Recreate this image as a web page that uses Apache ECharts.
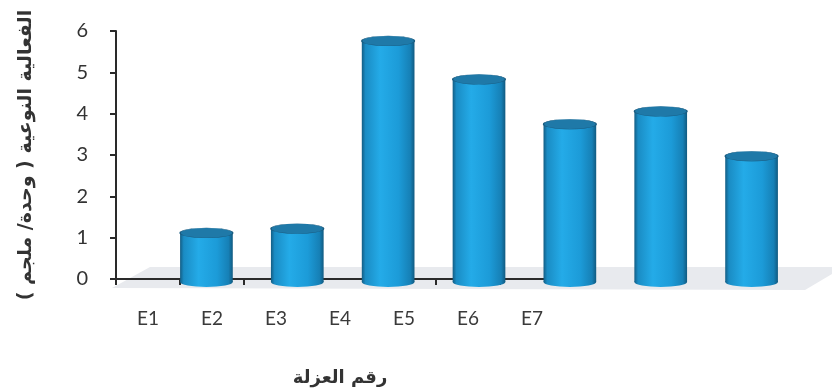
<!DOCTYPE html>
<html>
<head>
<meta charset="utf-8">
<script src="https://cdn.jsdelivr.net/npm/echarts@6/dist/echarts.min.js"></script>
<style>
  html, body { margin: 0; padding: 0; background: #ffffff; }
  #chart { width: 832px; height: 392px; }
</style>
</head>
<body>
<div id="chart"></div>
<script>
// Isolate numbers and their specific activity (unit/mg)
const categories = ['E1', 'E2', 'E3', 'E4', 'E5', 'E6', 'E7'];
const activity = [1.15, 1.25, 5.65, 4.75, 3.7, 4.0, 2.95];
const yTicks = [0, 1, 2, 3, 4, 5, 6];

const yName = 'الفعالية النوعية ( وحدة/ ملجم )';
const xName = 'رقم العزلة';

const chart = echarts.init(document.getElementById('chart'), null, { renderer: 'canvas' });

const bodyGrad = new echarts.graphic.LinearGradient(0, 0, 1, 0, [
  { offset: 0, color: '#135d84' },
  { offset: 0.07, color: '#1a8cc4' },
  { offset: 0.35, color: '#24abe8' },
  { offset: 0.7, color: '#1c9bd8' },
  { offset: 0.92, color: '#1680b6' },
  { offset: 1, color: '#115a80' }
]);

// Cylinder: body rectangle, rounded base and an elliptical lid
function renderCylinder(params, api) {
  const idx = api.value(0);
  const top = api.coord([idx, api.value(1)]);
  const base = api.coord([idx, 0]);
  const w = api.size([1, 0])[0] * 0.58;
  const r = w / 2;
  const ry = 5;
  const sy = ry / r;
  return {
    type: 'group',
    children: [
      {
        type: 'circle',
        shape: { cx: 0, cy: 0, r: r },
        x: top[0], y: base[1], scaleY: sy,
        style: { fill: bodyGrad }
      },
      {
        type: 'rect',
        shape: { x: top[0] - r, y: top[1], width: w, height: base[1] - top[1] },
        style: { fill: bodyGrad }
      },
      {
        type: 'circle',
        shape: { cx: 0, cy: 0, r: r },
        x: top[0], y: top[1], scaleY: sy,
        style: { fill: '#1f79a8', stroke: '#1b5c80', lineWidth: 1.5 }
      }
    ]
  };
}

const option = {
  backgroundColor: '#ffffff',
  animation: false,
  graphic: [
    {
      // floor of the plot area
      type: 'polygon',
      z: 0,
      shape: { points: [[112, 288], [805, 290], [832, 274], [832, 267], [150, 267]] },
      style: { fill: '#e8eaee' }
    }
  ],
  grid: [
    { left: 116, top: 31, width: 448, bottom: 105 },
    { left: 161, top: 26, width: 636, bottom: 110 }
  ],
  xAxis: [
    {
      type: 'category',
      gridIndex: 0,
      data: categories,
      boundaryGap: true,
      name: xName,
      nameLocation: 'middle',
      nameGap: 90,
      nameTextStyle: { fontFamily: 'DejaVu Sans', fontSize: 18, fontWeight: 'bold', color: '#333' },
      axisLine: { lineStyle: { color: '#2a2a2a', width: 2 } },
      axisTick: { show: true, length: 6, lineStyle: { color: '#2a2a2a', width: 2 } },
      axisLabel: { fontFamily: 'Lato', fontSize: 19, color: '#3a3a3a', margin: 30 },
      splitLine: { show: false }
    },
    {
      type: 'category',
      gridIndex: 1,
      data: categories,
      show: false
    }
  ],
  yAxis: [
    {
      type: 'value',
      gridIndex: 0,
      min: 0, max: 6, interval: 1,
      name: yName,
      nameLocation: 'middle',
      nameRotate: 90,
      nameGap: 80,
      nameTextStyle: { fontFamily: 'DejaVu Sans', fontSize: 19, fontWeight: 'bold', color: '#333' },
      axisLine: { show: true, lineStyle: { color: '#2a2a2a', width: 2 } },
      axisTick: { show: true, length: 6, lineStyle: { color: '#2a2a2a', width: 2 } },
      axisLabel: {
        fontFamily: 'Lato', fontSize: 20, color: '#333', margin: 28,
        formatter: v => (yTicks.indexOf(v) >= 0 ? String(v) : '')
      },
      splitLine: { show: false }
    },
    {
      type: 'value',
      gridIndex: 1,
      min: 0, max: 6, interval: 1,
      show: false
    }
  ],
  series: [
    {
      type: 'custom',
      xAxisIndex: 1,
      yAxisIndex: 1,
      z: 5,
      renderItem: renderCylinder,
      data: categories.map((c, i) => [i, activity[i]])
    }
  ]
};

chart.setOption(option);
</script>
</body>
</html>
